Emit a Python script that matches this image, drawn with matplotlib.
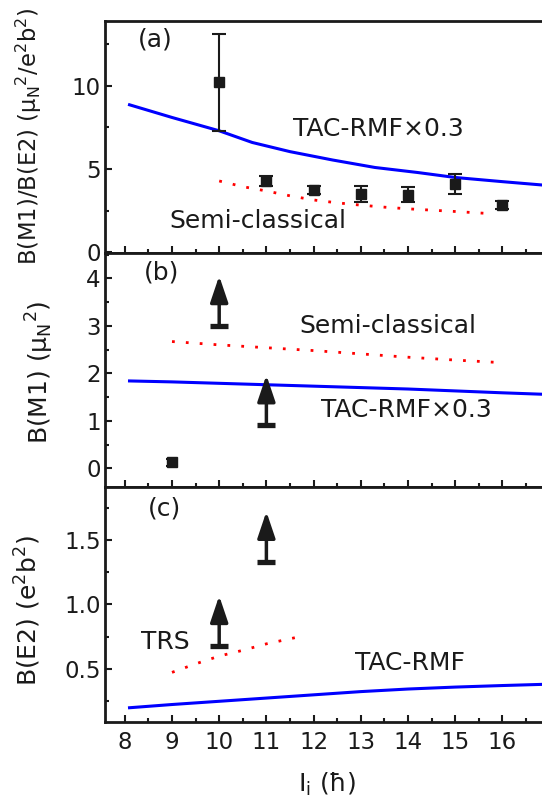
import matplotlib
matplotlib.use("Agg")
import matplotlib.pyplot as plt
from matplotlib.ticker import MultipleLocator
from matplotlib.transforms import offset_copy

plt.rcParams["font.family"] = ["DejaVu Sans"]
plt.rcParams["mathtext.fontset"] = "dejavusans"

# panel (a): B(M1)/B(E2)
spin_exp = [10, 11, 12, 13, 14, 15, 16]
ratio_exp = [10.2, 4.29, 3.75, 3.49, 3.45, 4.13, 2.84]
ratio_err = [2.9, 0.3, 0.25, 0.48, 0.45, 0.6, 0.24]
tac_a_x = [8.1, 9, 10, 10.7, 11.5, 12.4, 13.3, 14.2, 15, 16, 16.84]
tac_a_y = [8.86, 8.1, 7.3, 6.6, 6.05, 5.55, 5.1, 4.8, 4.5, 4.25, 4.05]
semi_a_x = [10, 10.5, 11, 11.5, 12, 12.5, 13, 13.5, 14, 14.5, 15, 15.7]
semi_a_y = [4.29, 3.95, 3.69, 3.4, 3.15, 2.98, 2.84, 2.72, 2.62, 2.54, 2.46, 2.34]

# panel (b): B(M1)
bm1_x = [9]
bm1_y = [0.126]
bm1_err = [0.08]
bm1_lim_x = [10, 11]
bm1_lim_y = [3.0, 0.91]
tac_b_x = [8.1, 9, 10, 11, 12, 13, 14, 15, 16, 16.84]
tac_b_y = [1.84, 1.82, 1.79, 1.76, 1.73, 1.70, 1.67, 1.63, 1.59, 1.56]
semi_b_x = [9, 10, 11, 12, 13, 14, 15, 15.9]
semi_b_y = [2.67, 2.6, 2.54, 2.48, 2.41, 2.34, 2.28, 2.23]

# panel (c): B(E2)
be2_lim_x = [10, 11]
be2_lim_y = [0.68, 1.332]
tac_c_x = [8.1, 9, 10, 11, 12, 13, 14, 15, 16, 16.84]
tac_c_y = [0.2, 0.225, 0.25, 0.275, 0.3, 0.325, 0.345, 0.36, 0.372, 0.381]
trs_x = [9, 9.5, 10, 10.5, 11, 11.7]
trs_y = [0.474, 0.54, 0.60, 0.645, 0.695, 0.75]

ink = "#1a1a1a"
blue = "#0000ff"
red = "#ff0000"
fs_tick = 16.5
fs_text = 18

fig = plt.figure(figsize=(5.42, 8.05), dpi=100)
ax_a = fig.add_axes([0.1937, 0.6853, 0.8063, 0.2889])
ax_b = fig.add_axes([0.1937, 0.3947, 0.8063, 0.2907], sharex=ax_a)
ax_c = fig.add_axes([0.1937, 0.1035, 0.8063, 0.2912], sharex=ax_a)


def style(ax, major, minor):
    for side in ["left", "bottom", "top"]:
        ax.spines[side].set_linewidth(2.0)
        ax.spines[side].set_color(ink)
    ax.spines["right"].set_visible(False)
    ax.yaxis.set_major_locator(MultipleLocator(major))
    ax.yaxis.set_minor_locator(MultipleLocator(minor))
    ax.xaxis.set_major_locator(MultipleLocator(1))
    ax.xaxis.set_minor_locator(MultipleLocator(0.5))
    ax.tick_params(which="both", direction="in", width=1.5, color=ink,
                   labelsize=fs_tick, labelcolor=ink, top=False, right=False)
    ax.tick_params(which="major", length=5)
    ax.tick_params(which="minor", length=3)
    ax.tick_params(axis="y", pad=3)
    ax.tick_params(axis="x", pad=7)


def limit_arrow(ax, x, y):
    ax.plot(x, y, marker="_", ms=13, mew=3.8, color=ink, zorder=4)
    tip = offset_copy(ax.transData, fig=fig, x=0, y=36, units="points")
    ax.annotate("", xy=(x, y), xycoords=tip, xytext=(x, y), textcoords="data",
                arrowprops=dict(arrowstyle="-|>,head_length=0.8,head_width=0.27",
                                mutation_scale=20, lw=2.5, color=ink,
                                shrinkA=0, shrinkB=0), zorder=4)


# (a)
ax_a.plot(tac_a_x, tac_a_y, color=blue, lw=2.2)
ax_a.plot(semi_a_x, semi_a_y, color=red, lw=2, ls=(0, (1, 4)))
ax_a.errorbar(spin_exp, ratio_exp, yerr=ratio_err, fmt="s", ms=7.5, color=ink,
              ecolor=ink, elinewidth=1.5, capsize=5, capthick=1.5, zorder=5)
ax_a.set_ylim(-0.05, 13.9)
style(ax_a, 5, 2.5)
ax_a.text(8.65, 12.77, "(a)", fontsize=fs_text, ha="center", va="center", color=ink)
ax_a.text(13.38, 7.41, "TAC-RMF×0.3", fontsize=fs_text, ha="center", va="center", color=ink)
ax_a.text(10.82, 1.88, "Semi-classical", fontsize=fs_text, ha="center", va="center", color=ink)

# (b)
ax_b.plot(tac_b_x, tac_b_y, color=blue, lw=2.2)
ax_b.plot(semi_b_x, semi_b_y, color=red, lw=2, ls=(0, (1, 4)))
ax_b.errorbar(bm1_x, bm1_y, yerr=bm1_err, fmt="s", ms=7.5, color=ink,
              ecolor=ink, elinewidth=1.5, capsize=4, capthick=1.5, zorder=5)
for x, y in zip(bm1_lim_x, bm1_lim_y):
    limit_arrow(ax_b, x, y)
ax_b.set_ylim(-0.4, 4.53)
style(ax_b, 1, 0.5)
ax_b.text(8.77, 4.12, "(b)", fontsize=fs_text, ha="center", va="center", color=ink)
ax_b.text(13.58, 2.99, "Semi-classical", fontsize=fs_text, ha="center", va="center", color=ink)
ax_b.text(13.96, 1.23, "TAC-RMF×0.3", fontsize=fs_text, ha="center", va="center", color=ink)

# (c)
ax_c.plot(tac_c_x, tac_c_y, color=blue, lw=2.2)
ax_c.plot(trs_x, trs_y, color=red, lw=2, ls=(0, (1, 4)))
for x, y in zip(be2_lim_x, be2_lim_y):
    limit_arrow(ax_c, x, y)
ax_c.set_ylim(0.092, 1.908)
style(ax_c, 0.5, 0.25)
ax_c.yaxis.set_major_formatter(plt.FormatStrFormatter("%.1f"))
ax_c.text(8.85, 1.74, "(c)", fontsize=fs_text, ha="center", va="center", color=ink)
ax_c.text(8.85, 0.712, "TRS", fontsize=fs_text, ha="center", va="center", color=ink)
ax_c.text(14.04, 0.544, "TAC-RMF", fontsize=fs_text, ha="center", va="center", color=ink)

ax_a.set_xlim(7.58, 16.84)
ax_a.tick_params(axis="x", labelbottom=False)
ax_b.tick_params(axis="x", labelbottom=False)

mu_n2 = r"μ$_\mathregular{N}$$^\mathregular{2}$"
fig.text(28.5 / 542, 1 - 136 / 805,
         "B(M1)/B(E2) (" + mu_n2 + r"/e$^\mathregular{2}$b$^\mathregular{2}$)",
         rotation=90, ha="center", va="center", fontsize=16.3, color=ink)
fig.text(40 / 542, 1 - 372 / 805, "B(M1) (" + mu_n2 + ")",
         rotation=90, ha="center", va="center", fontsize=fs_text, color=ink)
fig.text(28 / 542, 1 - 610 / 805, r"B(E2) (e$^\mathregular{2}$b$^\mathregular{2}$)",
         rotation=90, ha="center", va="center", fontsize=fs_text, color=ink)
fig.text(327 / 542, 1 - 784 / 805, r"I$_\mathregular{i}$ (ħ)",
         ha="center", va="center", fontsize=fs_text, color=ink)

fig.savefig("out.png", dpi=100)
